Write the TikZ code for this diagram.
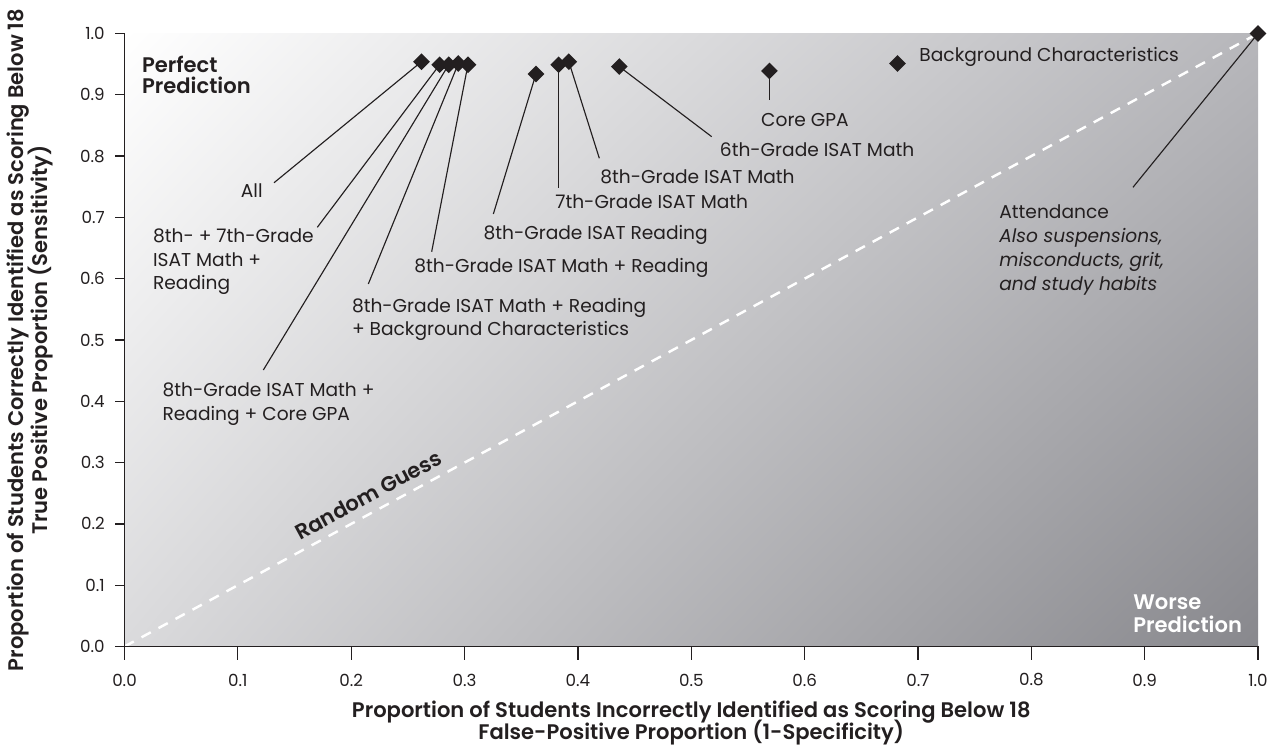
\documentclass[tikz,border=0pt]{standalone}
\usepackage{fontspec}
\setmainfont{Poppins}
\newfontfamily\medfont{Poppins SemiBold}
\usepackage{tikz}
\usepackage{xcolor}
\usetikzlibrary{shapes.geometric,shadings}

\definecolor{ink}{HTML}{231F20}
\definecolor{shadeUR}{HTML}{B7B7BB}
\definecolor{shadeLL}{HTML}{DADADC}
\definecolor{shadeLR}{HTML}{88888D}

\begin{document}
\begin{tikzpicture}[x=22.67cm, y=12.26cm,
  dmd/.style={diamond, fill=ink, inner sep=0pt, minimum size=0.34cm},
  lbl/.style={align=left, inner sep=0pt, text=ink, font=\fontsize{10.6}{13.4}\selectfont},
  conn/.style={ink, line width=0.65pt},
  ticklbl/.style={inner sep=0pt, text=ink, font=\fontsize{9.5}{11}\selectfont},
  axtitle/.style={inner sep=0pt, text=ink, font=\fontsize{12}{13}\medfont}]

\useasboundingbox (-2.49cm,-2.05cm) rectangle (23.11cm,12.93cm);

% background and random guess line
\shade[upper left=white, upper right=shadeUR, lower left=shadeLL, lower right=shadeLR] (0,0) rectangle (1,1);
\draw[white, line width=1.4pt, dash pattern=on 6pt off 5pt] (0,0) -- (1,1);

% axes
\draw[ink, line width=0.7pt] (0,1) -- (0,0) -- (1,0);
\foreach \t in {0.0,0.1,0.2,0.3,0.4,0.5,0.6,0.7,0.8,0.9,1.0} {
  \draw[ink, line width=0.7pt] (0,\t) -- ++(-0.2cm,0);
  \draw[ink, line width=0.7pt] (\t,0) -- ++(0,-0.28cm);
  \node[ticklbl, anchor=east] at (-0.0172,\t) {\t};
  \node[ticklbl] at (\t,-0.0546) {\t};
}

\node[axtitle] (xt1) at (0.5,-0.1068) {Proportion of Students Incorrectly Identified as Scoring Below 18};
\node[axtitle] (xt2) at (0.5,-0.1411) {False-Positive Proportion (1-Specificity)};
\node[axtitle, rotate=90] (yt1) at (-0.0940,0.5) {Proportion of Students Correctly Identified as Scoring Below 18};
\node[axtitle, rotate=90] (yt2) at (-0.0745,0.5) {True Positive Proportion (Sensitivity)};

\node[axtitle, anchor=north west, align=left, font=\fontsize{12}{12.3}\medfont] (perfect) at (0.0152,0.9643) {Perfect\\Prediction};
\node[axtitle, anchor=north west, align=left, text=white, font=\fontsize{12}{13}\medfont] (worse) at (0.8897,0.0855) {Worse\\Prediction};
\node[axtitle, rotate=28.4] (guess) at (0.215,0.247) {Random Guess};

% models
\node[dmd] (d1) at (0.262,0.954) {};
\node[dmd] (d2) at (0.278,0.949) {};
\node[dmd] (d3) at (0.286,0.949) {};
\node[dmd] (d4) at (0.2945,0.951) {};
\node[dmd] (d5) at (0.303,0.949) {};
\node[dmd] (d6) at (0.363,0.934) {};
\node[dmd] (d7) at (0.383,0.949) {};
\node[dmd] (d8) at (0.392,0.954) {};
\node[dmd] (d9) at (0.4365,0.946) {};
\node[dmd] (d10) at (0.569,0.939) {};
\node[dmd] (d11) at (0.682,0.951) {};
\node[dmd] (d12) at (1.0,1.0) {};

% labels
\node[lbl, anchor=east] (all) at (0.1222,0.743) {All};
\node[lbl, anchor=north west] (m87) at (0.0249,0.6815) {8th- + 7th-Grade\\ISAT Math +\\Reading};
\node[lbl, anchor=north west] (mgpa) at (0.0333,0.4302) {8th-Grade ISAT Math +\\Reading + Core GPA};
\node[lbl, anchor=north west] (mbg) at (0.2004,0.5689) {8th-Grade ISAT Math + Reading\\+ Background Characteristics};
\node[lbl, anchor=west] (mmr) at (0.2554,0.6170) {8th-Grade ISAT Math + Reading};
\node[lbl, anchor=west] (read8) at (0.3165,0.6713) {8th-Grade ISAT Reading};
\node[lbl, anchor=west] (math7) at (0.3798,0.7256) {7th-Grade ISAT Math};
\node[lbl, anchor=west] (math8) at (0.4195,0.7664) {8th-Grade ISAT Math};
\node[lbl, anchor=west] (math6) at (0.525,0.8111) {6th-Grade ISAT Math};
\node[lbl, anchor=west] (gpa) at (0.5614,0.8589) {Core GPA};
\node[lbl, anchor=west] (bg) at (0.701,0.9622) {Background Characteristics};
\node[lbl, anchor=north west, font=\fontsize{10.6}{13.6}\selectfont] (att) at (0.7715,0.7211) {Attendance\\\itshape Also suspensions,\\\itshape misconducts, grit,\\\itshape and study habits};

% leader ends
\coordinate (e1) at (0.1319,0.7565);
\coordinate (e2) at (0.1701,0.6838);
\coordinate (e3) at (0.1225,0.4511);
\coordinate (e4) at (0.2151,0.5914);
\coordinate (e5) at (0.2710,0.6440);
\coordinate (e6) at (0.3254,0.7055);
\coordinate (e7) at (0.383,0.7475);
\coordinate (e8) at (0.4189,0.7964);
\coordinate (e9) at (0.518,0.8317);
\coordinate (e10) at (0.569,0.8915);
\coordinate (e12) at (0.8897,0.7491);

\foreach \n in {1,...,10,12}
  \draw[conn] (d\n.center) -- (e\n);

\end{tikzpicture}
\end{document}
